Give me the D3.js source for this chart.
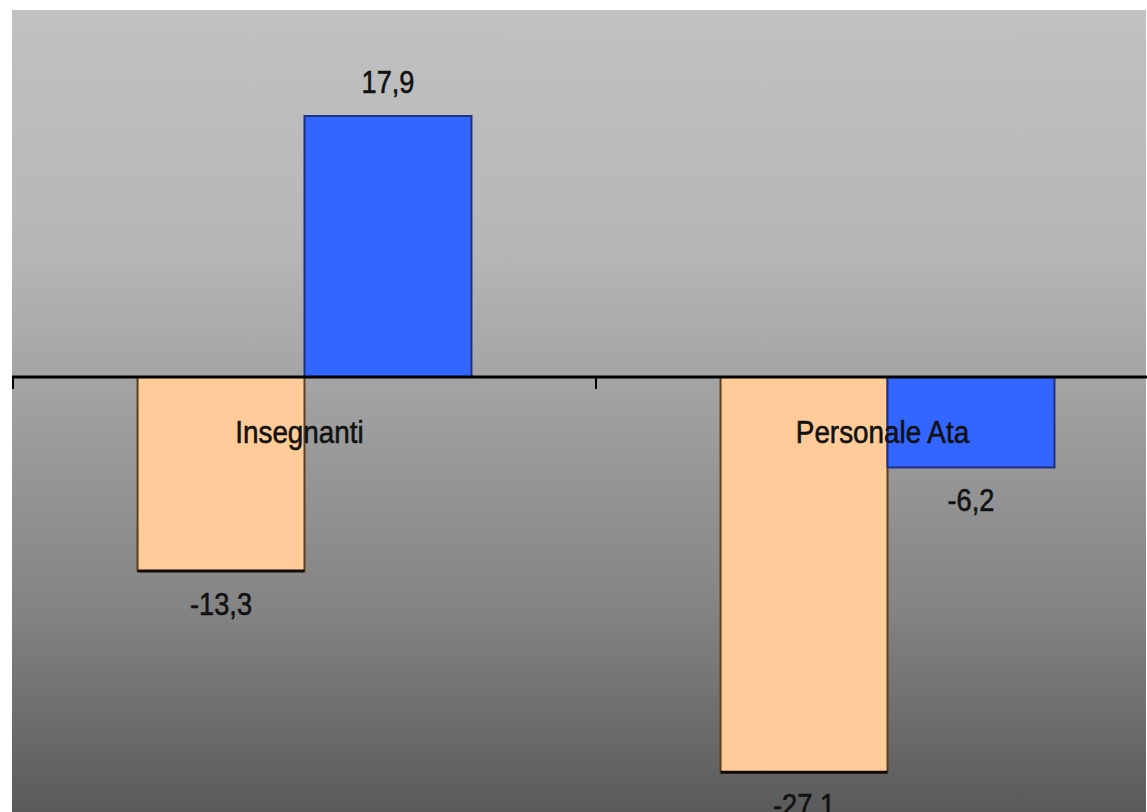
<!DOCTYPE html>
<html>
<head>
<meta charset="utf-8">
<script src="https://cdnjs.cloudflare.com/ajax/libs/d3/7.8.5/d3.min.js"></script>
<style>
  html, body { margin: 0; padding: 0; background: #fff; overflow: hidden; }
  svg { display: block; }
  text { font-family: "Liberation Sans", Arial, sans-serif; fill: #111; stroke: #111; stroke-width: 0.6px; }
</style>
</head>
<body>
<div id="chart"></div>
<script>
// data
var categories = ["Insegnanti", "Personale Ata"];
var seriesNames = ["orange", "blue"];
var orangeValues = [-13.3, -27.1];
var blueValues = [17.9, -6.2];
var seriesColors = ["#ffcc99", "#3366ff"];
var seriesStrokes = ["#5a4020", "#1f2f80"];

var width = 1147, height = 812;

var svg = d3.select("#chart")
    .append("svg")
    .attr("width", width)
    .attr("height", height);

// background gradient of the plot area
var defs = svg.append("defs");
var grad = defs.append("linearGradient")
    .attr("id", "bg")
    .attr("x1", 0).attr("y1", 0).attr("x2", 0).attr("y2", 1);
grad.append("stop").attr("offset", "0%").attr("stop-color", "#c1c1c1");
grad.append("stop").attr("offset", "30%").attr("stop-color", "#b6b6b6");
grad.append("stop").attr("offset", "46%").attr("stop-color", "#a4a4a4");
grad.append("stop").attr("offset", "75%").attr("stop-color", "#838383");
grad.append("stop").attr("offset", "100%").attr("stop-color", "#5a5a5a");

svg.append("rect")
    .attr("x", 12).attr("y", 10)
    .attr("width", width - 13).attr("height", height - 10)
    .attr("fill", "url(#bg)");

// scales
var x = d3.scaleBand()
    .domain(categories)
    .range([13, 1179])
    .padding(0);

var x1 = d3.scaleBand()
    .domain(seriesNames)
    .range([0, x.bandwidth()])
    .paddingInner(0)
    .paddingOuter(0.746);

var y = d3.scaleLinear()
    .domain([-30, 25])
    .range([814.5, 12.5]);

var rows = [];
categories.forEach(function(c, i) {
    rows.push({cat: c, s: 0, value: orangeValues[i]});
    rows.push({cat: c, s: 1, value: blueValues[i]});
});

// bars
svg.selectAll("rect.bar")
    .data(rows)
    .enter()
    .append("rect")
    .attr("class", "bar")
    .attr("x", function(d) { return x(d.cat) + x1(seriesNames[d.s]); })
    .attr("y", function(d) { return y(Math.max(0, d.value)); })
    .attr("width", x1.bandwidth())
    .attr("height", function(d) { return Math.abs(y(d.value) - y(0)); })
    .attr("fill", function(d) { return seriesColors[d.s]; })
    .attr("stroke", function(d) { return seriesStrokes[d.s]; })
    .attr("stroke-width", 2);

// bottom edge of the orange bars is drawn darker
svg.selectAll("line.edge")
    .data(rows.filter(function(d) { return d.s === 0; }))
    .enter()
    .append("line")
    .attr("x1", function(d) { return x(d.cat) + x1(seriesNames[d.s]); })
    .attr("x2", function(d) { return x(d.cat) + x1(seriesNames[d.s]) + x1.bandwidth(); })
    .attr("y1", function(d) { return y(d.value); })
    .attr("y2", function(d) { return y(d.value); })
    .attr("stroke", "#140c04")
    .attr("stroke-width", 3);

// zero line + ticks
svg.append("line")
    .attr("x1", 12).attr("x2", width)
    .attr("y1", y(0)).attr("y2", y(0))
    .attr("stroke", "#000")
    .attr("stroke-width", 3);

svg.selectAll("line.tick")
    .data(categories)
    .enter()
    .append("line")
    .attr("class", "tick")
    .attr("x1", function(d) { return x(d); })
    .attr("x2", function(d) { return x(d); })
    .attr("y1", y(0))
    .attr("y2", y(0) + 12)
    .attr("stroke", "#000")
    .attr("stroke-width", 2);

function condense(sel, k) {
    sel.each(function() {
        var len = this.getComputedTextLength();
        d3.select(this)
            .attr("textLength", len * k)
            .attr("lengthAdjust", "spacingAndGlyphs");
    });
}

// value labels, Italian decimal comma, plain hyphen for minus
var fmt = function(v) { return d3.format(".1f")(v).replace("\u2212", "-").replace(".", ","); };

svg.selectAll("text.val")
    .data(rows)
    .enter()
    .append("text")
    .attr("class", "val")
    .attr("x", function(d) { return x(d.cat) + x1(seriesNames[d.s]) + x1.bandwidth() / 2; })
    .attr("y", function(d) { return d.value >= 0 ? y(d.value) - 23 : y(d.value) + 44; })
    .attr("text-anchor", "middle")
    .style("font-size", "32px")
    .text(function(d) { return fmt(d.value); })
    .call(condense, 0.85);

// category labels
svg.selectAll("text.cat")
    .data(categories)
    .enter()
    .append("text")
    .attr("class", "cat")
    .attr("x", function(d) { return x(d) + x.bandwidth() / 2 - 5; })
    .attr("y", y(0) + 66)
    .attr("text-anchor", "middle")
    .style("font-size", "32px")
    .text(function(d) { return d; })
    .call(condense, 0.87);
</script>
</body>
</html>
